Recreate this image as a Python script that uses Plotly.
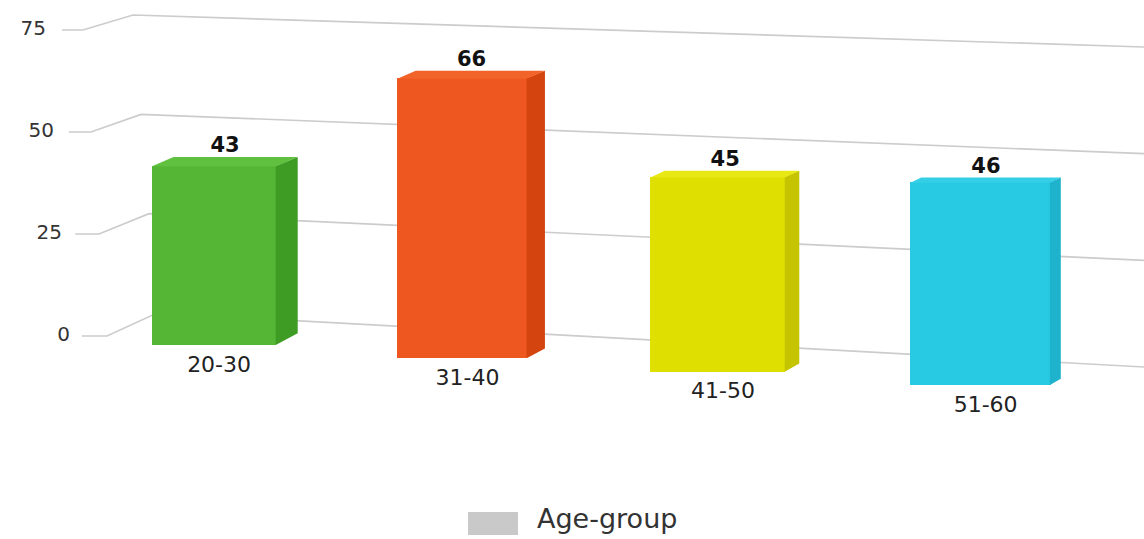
import plotly.graph_objects as go

# ---------------- data ----------------
categories = ["20-30", "31-40", "41-50", "51-60"]
values = [43, 66, 45, 46]
y_ticks = [0, 25, 50, 75]
legend_name = "Age-group"

front_colors = ["#55b535", "#ee571f", "#dfdf02", "#28c9e2"]
side_colors = ["#3e9c24", "#d4440f", "#c4c400", "#1eb2cd"]
top_colors = ["#60c040", "#f26329", "#e8e814", "#34cfe7"]
legend_color = "#c9c9c9"

# ---------------- layout geometry (pixel based perspective styling) ----------------
W, H = 1144, 539
PX_X = 255.0   # px per category step
X0_PX = 214.0  # px of first category centre
PX_Y = 4.08    # px per value unit
Y0_PX = 336.0  # px of value 0 at the left wall


def xd(px):
    return (px - X0_PX) / PX_X


def yd(py):
    return (Y0_PX - py) / PX_Y


def py_of(v):
    return Y0_PX - PX_Y * v


n = len(categories)
idx = list(range(n))
xpos = [i * (0.96 + 0.014 * i) for i in idx]          # perspective spacing
persp = [1 + 0.02 * (i + 1) for i in idx]             # perspective growth
base = [-2.2 - 3.27 * i for i in idx]                 # floor slopes away
width = [0.49 + 0.02 * i for i in idx]
heights = [v * s for v, s in zip(values, persp)]
tops = [b + h for b, h in zip(base, heights)]
dx_px = [22 - 3.7 * i for i in idx]
dy_px = [9 - 1.4 * i for i in idx]

fig = go.Figure()

# front faces
fig.add_trace(go.Bar(
    x=xpos, y=heights, base=base, width=width,
    marker=dict(color=front_colors, line=dict(width=0)),
    showlegend=False, hoverinfo="skip",
))

# side and top faces
for i in idx:
    xl = xpos[i] - width[i] / 2
    xr = xpos[i] + width[i] / 2 - 0.003
    ddx = dx_px[i] / PX_X
    ddy = dy_px[i] / PX_Y
    b, t = base[i], tops[i]
    fig.add_trace(go.Scatter(
        x=[xr, xr, xr + ddx, xr + ddx, xr],
        y=[b, t, t + ddy, b + ddy * 1.3, b],
        fill="toself", fillcolor=side_colors[i], mode="lines",
        line=dict(width=0, color=side_colors[i]),
        showlegend=False, hoverinfo="skip",
    ))
    fig.add_trace(go.Scatter(
        x=[xl, xl + ddx, xr + ddx, xr, xl],
        y=[t - 0.1, t + ddy, t + ddy, t - 0.1, t - 0.1],
        fill="toself", fillcolor=top_colors[i], mode="lines",
        line=dict(width=0, color=top_colors[i]),
        showlegend=False, hoverinfo="skip",
    ))

# value labels
fig.add_trace(go.Scatter(
    x=[xpos[i] + dx_px[i] / PX_X / 2 for i in idx],
    y=[tops[i] + (dy_px[i] + 10) / PX_Y for i in idx],
    mode="text", text=[str(v) for v in values],
    textposition="middle center",
    textfont=dict(family="DejaVu Sans", size=21, color="#111111", weight="bold"),
    showlegend=False, hoverinfo="skip",
))

# category labels
fig.add_trace(go.Scatter(
    x=[xpos[i] + 0.02 for i in idx],
    y=[base[i] - 5.2 for i in idx],
    mode="text", text=categories, textposition="middle center",
    textfont=dict(family="DejaVu Sans", size=22, color="#222222"),
    showlegend=False, hoverinfo="skip",
))

# value axis tick labels (perspective: shifted right as they go down)
fig.add_trace(go.Scatter(
    x=[xd(70 - 24 * v / 75) for v in y_ticks],
    y=y_ticks,
    mode="text", text=[str(v) for v in y_ticks], textposition="middle left",
    textfont=dict(family="DejaVu Sans", size=20, color="#333333"),
    showlegend=False, hoverinfo="skip",
))

# legend entry (swatch drawn as a larger box behind it)
fig.add_trace(go.Scatter(
    x=[None], y=[None], mode="lines", name=legend_name,
    line=dict(color="rgba(0,0,0,0)", width=2),
    showlegend=True, hoverinfo="skip",
))

# slanted grid lines (left wall + back wall)
shapes = []
for v in y_ticks:
    f = v / 75.0
    a_px = 82 - 20 * f
    b_px = 107 - 24 * f
    c_px = 157 - 24 * f
    rise = 23 - 8 * f
    drop = 31 - 14 * f
    y0 = py_of(v)
    pts = [(a_px, y0), (b_px, y0), (c_px, y0 - rise), (W, y0 + drop)]
    path = "M " + " L ".join(f"{xd(px):.5f},{yd(py):.5f}" for px, py in pts)
    shapes.append(dict(type="path", path=path, xref="x", yref="y", layer="below",
                       line=dict(color="#cccccc", width=1.7)))

# legend swatch box
shapes.append(dict(type="rect", xref="paper", yref="paper",
                   x0=468 / W, x1=518 / W, y0=1 - 535 / H, y1=1 - 512 / H,
                   fillcolor=legend_color, line=dict(width=0), layer="above"))

fig.update_layout(
    width=W, height=H,
    margin=dict(l=0, r=0, t=0, b=0, autoexpand=False),
    paper_bgcolor="white", plot_bgcolor="white",
    xaxis=dict(range=[xd(0), xd(W)], visible=False, fixedrange=True),
    yaxis=dict(range=[yd(H), yd(0)], visible=False, fixedrange=True),
    shapes=shapes,
    showlegend=True,
    legend=dict(orientation="h", x=479 / W, xanchor="left",
                y=-0.006, yanchor="bottom",
                font=dict(family="DejaVu Sans", size=27, color="#333333"),
                itemwidth=48, bgcolor="rgba(0,0,0,0)"),
    hovermode=False,
    bargap=0,
)

fig.write_html("out.html")
